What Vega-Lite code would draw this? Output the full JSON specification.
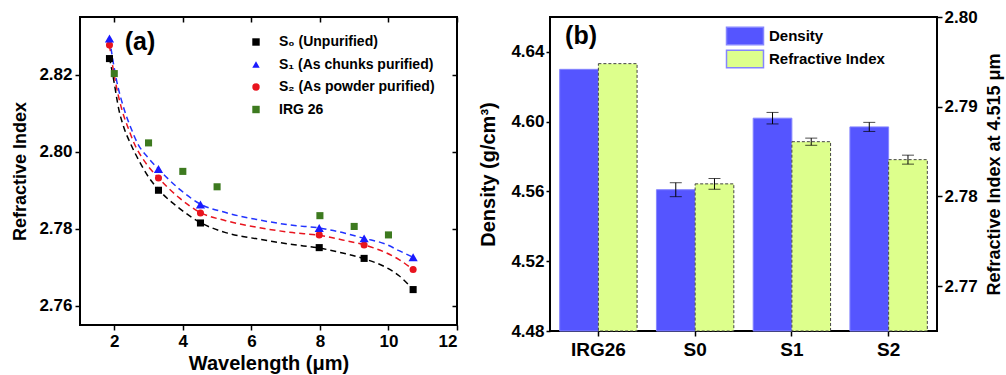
{
  "$schema": "https://vega.github.io/schema/vega-lite/v6.json",
  "background": "white",
  "padding": {"left": 10, "top": 7, "right": 4, "bottom": 2},
  "spacing": 18,
  "resolve": {
    "scale": {"color": "independent", "shape": "independent", "stroke": "independent"},
    "legend": {"color": "independent", "shape": "independent"}
  },
  "config": {
    "font": "Liberation Sans",
    "view": {"stroke": "black", "strokeWidth": 2},
    "axis": {
      "labelFont": "Liberation Sans", "titleFont": "Liberation Sans",
      "labelFontWeight": "bold", "titleFontWeight": "bold",
      "labelColor": "black", "titleColor": "black",
      "grid": false, "domain": false,
      "tickColor": "black", "tickWidth": 1.5, "tickSize": 5
    },
    "legend": {"labelFont": "Liberation Sans", "labelFontWeight": "bold", "labelColor": "black"}
  },
  "datasets": {
    "pts": [
      {"series": "S₀ (Unpurified)", "wl": 1.86, "n": 2.8242},
      {"series": "S₀ (Unpurified)", "wl": 3.29, "n": 2.7900},
      {"series": "S₀ (Unpurified)", "wl": 4.515, "n": 2.7815},
      {"series": "S₀ (Unpurified)", "wl": 7.98, "n": 2.7751},
      {"series": "S₀ (Unpurified)", "wl": 9.29, "n": 2.7723},
      {"series": "S₀ (Unpurified)", "wl": 10.72, "n": 2.7642},
      {"series": "S₁ (As chunks purified)", "wl": 1.86, "n": 2.8294},
      {"series": "S₁ (As chunks purified)", "wl": 3.29, "n": 2.7955},
      {"series": "S₁ (As chunks purified)", "wl": 4.515, "n": 2.7863},
      {"series": "S₁ (As chunks purified)", "wl": 7.98, "n": 2.7802},
      {"series": "S₁ (As chunks purified)", "wl": 9.29, "n": 2.7775},
      {"series": "S₁ (As chunks purified)", "wl": 10.72, "n": 2.7726},
      {"series": "S₂ (As powder purified)", "wl": 1.86, "n": 2.8277},
      {"series": "S₂ (As powder purified)", "wl": 3.29, "n": 2.7932},
      {"series": "S₂ (As powder purified)", "wl": 4.515, "n": 2.7841},
      {"series": "S₂ (As powder purified)", "wl": 7.98, "n": 2.7784},
      {"series": "S₂ (As powder purified)", "wl": 9.29, "n": 2.7758},
      {"series": "S₂ (As powder purified)", "wl": 10.72, "n": 2.7694},
      {"series": "IRG 26", "wl": 2, "n": 2.8203},
      {"series": "IRG 26", "wl": 3, "n": 2.8023},
      {"series": "IRG 26", "wl": 4, "n": 2.7949},
      {"series": "IRG 26", "wl": 5, "n": 2.7909},
      {"series": "IRG 26", "wl": 8, "n": 2.7834},
      {"series": "IRG 26", "wl": 9, "n": 2.7806},
      {"series": "IRG 26", "wl": 10, "n": 2.7784}
    ],
    "fits": [
      {"fit": "S0", "wl": 1.86, "n": 2.8245},
      {"fit": "S0", "wl": 1.97, "n": 2.8193},
      {"fit": "S0", "wl": 2.14, "n": 2.8107},
      {"fit": "S0", "wl": 2.28, "n": 2.8063},
      {"fit": "S0", "wl": 2.48, "n": 2.8020},
      {"fit": "S0", "wl": 2.72, "n": 2.7977},
      {"fit": "S0", "wl": 3.01, "n": 2.7933},
      {"fit": "S0", "wl": 3.29, "n": 2.7902},
      {"fit": "S0", "wl": 3.9, "n": 2.7853},
      {"fit": "S0", "wl": 4.515, "n": 2.7816},
      {"fit": "S0", "wl": 5.25, "n": 2.7790},
      {"fit": "S0", "wl": 6.22, "n": 2.7773},
      {"fit": "S0", "wl": 7.2, "n": 2.7759},
      {"fit": "S0", "wl": 7.98, "n": 2.7750},
      {"fit": "S0", "wl": 8.66, "n": 2.7737},
      {"fit": "S0", "wl": 9.29, "n": 2.7722},
      {"fit": "S0", "wl": 9.92, "n": 2.7700},
      {"fit": "S0", "wl": 10.31, "n": 2.7678},
      {"fit": "S0", "wl": 10.72, "n": 2.7642},
      {"fit": "S2", "wl": 1.86, "n": 2.8277},
      {"fit": "S2", "wl": 2.01, "n": 2.8193},
      {"fit": "S2", "wl": 2.23, "n": 2.8107},
      {"fit": "S2", "wl": 2.4, "n": 2.8063},
      {"fit": "S2", "wl": 2.59, "n": 2.8020},
      {"fit": "S2", "wl": 2.87, "n": 2.7977},
      {"fit": "S2", "wl": 3.29, "n": 2.7932},
      {"fit": "S2", "wl": 3.9, "n": 2.7880},
      {"fit": "S2", "wl": 4.515, "n": 2.7842},
      {"fit": "S2", "wl": 5.25, "n": 2.7821},
      {"fit": "S2", "wl": 6.22, "n": 2.7803},
      {"fit": "S2", "wl": 7.2, "n": 2.7790},
      {"fit": "S2", "wl": 7.98, "n": 2.7783},
      {"fit": "S2", "wl": 8.66, "n": 2.7771},
      {"fit": "S2", "wl": 9.29, "n": 2.7758},
      {"fit": "S2", "wl": 9.92, "n": 2.7738},
      {"fit": "S2", "wl": 10.31, "n": 2.7720},
      {"fit": "S2", "wl": 10.72, "n": 2.7694},
      {"fit": "S1", "wl": 1.86, "n": 2.8294},
      {"fit": "S1", "wl": 2.05, "n": 2.8193},
      {"fit": "S1", "wl": 2.3, "n": 2.8107},
      {"fit": "S1", "wl": 2.48, "n": 2.8063},
      {"fit": "S1", "wl": 2.69, "n": 2.8020},
      {"fit": "S1", "wl": 2.98, "n": 2.7985},
      {"fit": "S1", "wl": 3.29, "n": 2.7955},
      {"fit": "S1", "wl": 3.9, "n": 2.7903},
      {"fit": "S1", "wl": 4.515, "n": 2.7864},
      {"fit": "S1", "wl": 5.25, "n": 2.7842},
      {"fit": "S1", "wl": 6.22, "n": 2.7823},
      {"fit": "S1", "wl": 7.2, "n": 2.7809},
      {"fit": "S1", "wl": 7.98, "n": 2.7802},
      {"fit": "S1", "wl": 8.66, "n": 2.7790},
      {"fit": "S1", "wl": 9.29, "n": 2.7775},
      {"fit": "S1", "wl": 9.92, "n": 2.7760},
      {"fit": "S1", "wl": 10.31, "n": 2.7743},
      {"fit": "S1", "wl": 10.72, "n": 2.7726}
    ],
    "bars": [
      {"sample": "IRG26", "measure": "Density", "value": 4.630, "lo": null, "hi": null},
      {"sample": "IRG26", "measure": "Refractive Index", "value": 2.7948, "lo": null, "hi": null},
      {"sample": "S0", "measure": "Density", "value": 4.561, "lo": 4.557, "hi": 4.565},
      {"sample": "S0", "measure": "Refractive Index", "value": 2.7814, "lo": 2.7808, "hi": 2.7820},
      {"sample": "S1", "measure": "Density", "value": 4.602, "lo": 4.5987, "hi": 4.6053},
      {"sample": "S1", "measure": "Refractive Index", "value": 2.7861, "lo": 2.7857, "hi": 2.7865},
      {"sample": "S2", "measure": "Density", "value": 4.597, "lo": 4.5944, "hi": 4.5996},
      {"sample": "S2", "measure": "Refractive Index", "value": 2.7841, "lo": 2.7836, "hi": 2.7846}
    ]
  },
  "hconcat": [
    {
      "width": 377,
      "height": 308,
      "layer": [
        {
          "data": {"name": "fits"},
          "mark": {"type": "line", "strokeDash": [6, 4], "strokeWidth": 1.5, "interpolate": "monotone"},
          "encoding": {
            "x": {"field": "wl", "type": "quantitative", "scale": {"domain": [1, 12], "nice": false},
                  "axis": {"orient": "top", "labels": false, "title": null, "tickSize": -5, "values": [2, 4, 6, 8, 10, 12]}},
            "y": {"field": "n", "type": "quantitative", "scale": {"domain": [2.755, 2.835], "nice": false, "zero": false},
                  "axis": {"orient": "right", "labels": false, "title": null, "tickSize": -5, "values": [2.76, 2.78, 2.8, 2.82]}},
            "stroke": {"field": "fit", "type": "nominal", "scale": {"domain": ["S0", "S1", "S2"], "range": ["#000000", "#2233ff", "#e8141e"]}, "legend": null}
          }
        },
        {
          "data": {"name": "pts"},
          "layer": [
            {
              "transform": [{"filter": "datum.series !== 'S₁ (As chunks purified)'"}],
              "mark": {"type": "point", "filled": true, "opacity": 1, "size": 50}
            },
            {
              "transform": [{"filter": "datum.series === 'S₁ (As chunks purified)'"}],
              "mark": {"type": "point", "filled": true, "opacity": 1, "size": 85}
            }
          ],
          "encoding": {
            "x": {"field": "wl", "type": "quantitative", "scale": {"domain": [1, 12], "nice": false},
                  "axis": {"orient": "bottom", "title": "Wavelength (μm)", "values": [2, 4, 6, 8, 10, 12], "labelFontSize": 17, "titleFontSize": 20, "labelPadding": 3, "titlePadding": 4}},
            "y": {"field": "n", "type": "quantitative", "scale": {"domain": [2.755, 2.835], "nice": false, "zero": false},
                  "axis": {"orient": "left", "title": "Refractive Index", "values": [2.76, 2.78, 2.8, 2.82], "format": ".2f", "labelFontSize": 17, "titleFontSize": 18, "labelPadding": 3, "titlePadding": 9}},
            "color": {"field": "series", "type": "nominal",
                      "scale": {"domain": ["S₀ (Unpurified)", "S₁ (As chunks purified)", "S₂ (As powder purified)", "IRG 26"], "range": ["#000000", "#1a1aff", "#e8141e", "#3d7a1f"]},
                      "legend": {"orient": "none", "legendX": 169, "legendY": 18, "title": null, "labelFontSize": 14, "rowPadding": 8.5, "labelOffset": 16, "symbolSize": 55, "padding": 0}},
            "shape": {"field": "series", "type": "nominal",
                      "scale": {"domain": ["S₀ (Unpurified)", "S₁ (As chunks purified)", "S₂ (As powder purified)", "IRG 26"], "range": ["square", "triangle-up", "circle", "square"]},
                      "legend": {"orient": "none", "legendX": 169, "legendY": 18, "title": null, "labelFontSize": 14, "rowPadding": 8.5, "labelOffset": 16, "symbolSize": 55, "padding": 0}}
          }
        },
        {
          "data": {"values": [{}]},
          "mark": {"type": "text", "text": "(a)", "fontSize": 25, "fontWeight": "bold", "color": "black"},
          "encoding": {
            "x": {"datum": 2.75, "type": "quantitative", "axis": null},
            "y": {"datum": 2.8286, "type": "quantitative", "axis": null}
          }
        }
      ],
      "resolve": {"axis": {"x": "independent", "y": "independent"}}
    },
    {
      "width": 387,
      "height": 314,
      "data": {"name": "bars"},
      "encoding": {
        "x": {"field": "sample", "type": "nominal", "sort": ["IRG26", "S0", "S1", "S2"],
              "scale": {"paddingInner": 0.2, "paddingOuter": 0.1},
              "axis": {"title": null, "labelAngle": 0, "labelFontSize": 19, "labelPadding": 4}},
        "xOffset": {"field": "measure", "type": "nominal", "sort": ["Density", "Refractive Index"], "scale": {"paddingInner": 0, "paddingOuter": 0}}
      },
      "layer": [
        {
          "transform": [{"filter": "datum.measure === 'Density'"}],
          "layer": [
            {
              "mark": {"type": "bar", "stroke": "#8585ff", "strokeWidth": 1},
              "encoding": {
                "y": {"field": "value", "type": "quantitative", "scale": {"domain": [4.48, 4.66], "nice": false, "zero": false},
                      "axis": {"title": "Density (g/cm³)", "values": [4.48, 4.52, 4.56, 4.6, 4.64], "format": ".2f", "labelFontSize": 17, "titleFontSize": 20, "tickSize": 4, "labelPadding": 2, "titlePadding": 12}},
                "y2": {"datum": 4.48},
                "color": {"field": "measure", "type": "nominal", "scale": {"domain": ["Density", "Refractive Index"], "range": ["#5555ff", "#ddff8c"]},
                          "legend": {"orient": "none", "legendX": 185, "legendY": 9, "title": null, "labelFontSize": 15, "padding": 0,
                                     "symbolType": "M-2,-0.95H2V0.95H-2Z", "symbolSize": 342, "labelOffset": 14, "rowPadding": -1,
                                     "encode": {"symbols": {"update": {
                                       "stroke": [{"test": "datum.value === 'Refractive Index'", "value": "#444444"}, {"value": "#8585ff"}],
                                       "strokeWidth": {"value": 1},
                                       "strokeDash": [{"test": "datum.value === 'Refractive Index'", "value": [3, 2]}, {"value": [1, 0]}]
                                     }}}}}
              }
            },
            {
              "transform": [{"filter": "datum.lo != null"}],
              "mark": {"type": "rule", "color": "black", "strokeWidth": 1},
              "encoding": {"y": {"field": "lo", "type": "quantitative"}, "y2": {"field": "hi"}}
            },
            {
              "transform": [{"filter": "datum.lo != null"}],
              "mark": {"type": "tick", "color": "black", "size": 12, "thickness": 1},
              "encoding": {"y": {"field": "lo", "type": "quantitative"}}
            },
            {
              "transform": [{"filter": "datum.lo != null"}],
              "mark": {"type": "tick", "color": "black", "size": 12, "thickness": 1},
              "encoding": {"y": {"field": "hi", "type": "quantitative"}}
            },
            {
              "data": {"values": [{"sample": "IRG26", "measure": "Density"}]},
              "mark": {"type": "text", "text": "(b)", "fontSize": 25, "fontWeight": "bold", "color": "black", "dx": 2},
              "encoding": {"y": {"datum": 4.649, "type": "quantitative"}}
            }
          ]
        },
        {
          "transform": [{"filter": "datum.measure === 'Refractive Index'"}],
          "layer": [
            {
              "mark": {"type": "bar", "stroke": "#444444", "strokeWidth": 1, "strokeDash": [3, 2]},
              "encoding": {
                "y": {"field": "value", "type": "quantitative", "scale": {"domain": [2.765, 2.8], "nice": false, "zero": false},
                      "axis": {"orient": "right", "title": "Refractive Index at 4.515 μm", "values": [2.77, 2.78, 2.79, 2.8], "format": ".2f", "labelFontSize": 17, "titleFontSize": 18, "tickSize": 5, "labelPadding": 2, "titlePadding": 8, "titleAngle": 270, "titleBaseline": "top"}},
                "y2": {"datum": 2.765},
                "color": {"field": "measure", "type": "nominal"}
              }
            },
            {
              "transform": [{"filter": "datum.lo != null"}],
              "mark": {"type": "rule", "color": "black", "strokeWidth": 1},
              "encoding": {"y": {"field": "lo", "type": "quantitative"}, "y2": {"field": "hi"}}
            },
            {
              "transform": [{"filter": "datum.lo != null"}],
              "mark": {"type": "tick", "color": "black", "size": 12, "thickness": 1},
              "encoding": {"y": {"field": "lo", "type": "quantitative"}}
            },
            {
              "transform": [{"filter": "datum.lo != null"}],
              "mark": {"type": "tick", "color": "black", "size": 12, "thickness": 1},
              "encoding": {"y": {"field": "hi", "type": "quantitative"}}
            }
          ]
        }
      ],
      "resolve": {"scale": {"y": "independent"}}
    }
  ]
}
